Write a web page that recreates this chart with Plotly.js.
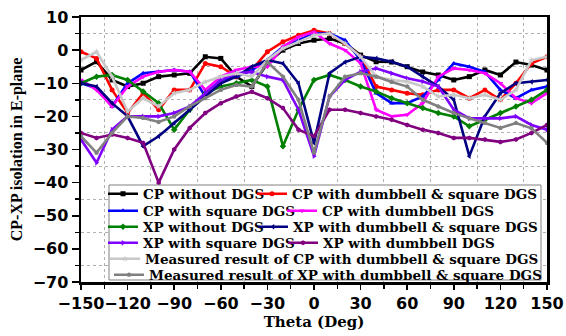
<!DOCTYPE html>
<html>
<head>
<meta charset="utf-8">
<script src="https://cdn.plot.ly/plotly-3.0.1.min.js"></script>
<style>html,body{margin:0;padding:0;background:#fff;}#chart{width:566px;height:336px;}</style>
</head>
<body>
<div id="chart"></div>
<script>
const theta = [-150,-140,-130,-120,-110,-100,-90,-80,-70,-60,-50,-40,-30,-20,-10,0,10,20,30,40,50,60,70,80,90,100,110,120,130,140,150];

const cpWithout      = [-6,-3.5,-9,-11,-10,-8,-7.5,-7,-2,-2.5,-8,-11,-4,0,2,3,3.5,2,-1.5,-3.5,-3.6,-5,-6.6,-7.5,-9,-8,-6,-7.5,-3.6,-4.5,-6];
const cpDumbSquare   = [-0.5,-2.5,-12,-19,-13,-18,-12,-12,-4,-5,-8,-6,-0.5,2.5,4.5,6,5,2,-2,-11,-12,-13,-13.5,-12,-12,-14.5,-12,-15,-10,-4,-2];
const cpSquare       = [-10,-11.5,-17,-10,-7,-6.5,-6,-6.5,-14,-9,-8,-6,-3,1,3,5,5,3,-3,-13,-16,-16,-14,-9,-4,-5,-6.6,-12,-14.5,-12,-11];
const cpDumb         = [-9,-12,-17,-11,-8,-6.5,-6,-6.5,-12,-8,-6,-5,-5,1,4,5.5,2,0,-4,-18,-20,-19.5,-16,-8,-5.5,-6,-7,-10,-14.5,-16,-13];
const xpWithout      = [-10,-8,-7.5,-9,-12.5,-16,-24,-18,-13,-11,-10,-9,-11,-29,-18,-9,-7.5,-9,-11,-12.5,-14.5,-16,-17.5,-19,-20,-23,-21,-19,-17,-15,-12];
const xpDumbSquare   = [-10,-11,-16,-20,-29,-26,-22,-18,-14,-10,-8,-5,-3,-4,-10,-28,-7,-3.6,-2,-2.5,-3.5,-5,-8,-11,-15,-32,-20,-13,-10,-9.6,-9];
const xpSquare       = [-27,-34,-24,-20,-20,-20,-19,-17,-13,-9,-7,-6.6,-8,-9,-18,-32,-14,-9,-6.5,-5.5,-7,-8.5,-9.5,-11,-18,-20.6,-20.6,-20.6,-20,-22.6,-24];
const xpDumb         = [-25,-26.5,-25.5,-26.5,-28,-40,-30,-23.5,-19,-16,-14,-12.6,-14.5,-17.5,-24,-26,-18,-18,-19,-20,-21,-22.6,-24,-25,-26.5,-26.5,-27,-27.7,-27,-25,-22.6];
const measCP         = [-3,-0.5,-8,-18.5,-14.5,-17,-13,-12,-9.6,-8,-7,-8,-3,0.5,2.5,4.5,5,2,-2,-8,-9,-9.5,-11,-14,-13.5,-14.5,-13.5,-15,-12,-3,-2];
const measXP         = [-26,-31,-25,-20,-20.5,-21.7,-20,-17,-14.5,-12,-10.5,-11,-3.6,-8,-15,-31,-14,-8,-7,-8,-9.6,-11,-15,-17,-19,-20.6,-22,-23.5,-22,-23.6,-28];

const names = [
  'CP without DGS','CP with dumbbell & square DGS',
  'CP with square DGS','CP with dumbbell DGS',
  'XP without DGS','XP with dumbbell & square DGS',
  'XP with square DGS','XP with dumbbell DGS',
  'Measured result of CP with dumbbell & square DGS',
  'Measured result of XP with dumbbell & square DGS'
];
const series = [cpWithout,cpDumbSquare,cpSquare,cpDumb,xpWithout,xpDumbSquare,xpSquare,xpDumb,measCP,measXP];
const colors = ['#000000','#ff0000','#0000ff','#ff00ff','#008000','#000080','#8000ff','#800080','#c8c8c8','#808080'];
const symbols = ['square','circle','triangle-up','triangle-down','diamond','triangle-left','triangle-right','hexagon','star','pentagon'];

const legKey = i => (i === 0 ? 'legend' : 'legend' + (i + 1));

const traces = series.map((s,i)=>({
  x: theta, y: s, name: names[i], type:'scatter', mode:'lines+markers',
  line:{color:colors[i], width:2.6},
  marker:{symbol:symbols[i], size:5, color:colors[i]},
  legend: legKey(i)
}));

// plot area: x 81..547, y 17..282 ; legend entries placed one per legend box
const rowPy = [194,194,211,211,227,227,243,243,259,275];
const colPx = [103,252,103,282,103,253,103,283,105,109];
const legFont = {family:'DejaVu Serif', size:13.5, weight:'bold', color:'#000'};

const tickFont = {family:'DejaVu Sans', size:16, weight:'bold', color:'#000'};
const layout = {
  width:566, height:336,
  margin:{l:81, r:19, t:17, b:54},
  paper_bgcolor:'#fff', plot_bgcolor:'#fff',
  showlegend:true,
  xaxis:{
    range:[-150,150], tickmode:'linear', tick0:-150, dtick:30, tickangle:0,
    ticks:'outside', ticklen:5, tickwidth:1.5, tickcolor:'#000',
    showline:true, linecolor:'#000', linewidth:2.5, mirror:true,
    showgrid:false, zeroline:false,
    minor:{tick0:-150, dtick:15, ticks:'outside', ticklen:4, tickcolor:'#000', showgrid:true, gridcolor:'#b0b0b0', griddash:'dot', gridwidth:1},
    tickfont:tickFont,
    title:{text:'Theta (Deg)', font:{family:'DejaVu Serif', size:15, weight:'bold', color:'#000'}, standoff:5},
    automargin:false
  },
  yaxis:{
    range:[-70,10], tickmode:'linear', tick0:-70, dtick:10,
    ticks:'outside', ticklen:7, tickwidth:1.5, tickcolor:'#000',
    showline:true, linecolor:'#000', linewidth:2.5, mirror:true,
    showgrid:false, zeroline:false,
    minor:{tick0:-70, dtick:5, ticks:'outside', ticklen:4, tickcolor:'#000', showgrid:true, gridcolor:'#b0b0b0', griddash:'dot', gridwidth:1},
    tickfont:tickFont,
    title:{text:'CP-XP isolation in E-plane', font:{family:'Liberation Serif', size:16, weight:'bold', color:'#000'}, standoff:6},
    automargin:false
  },
  shapes:[{type:'rect', xref:'paper', yref:'paper', x0:(109-81)/466, x1:(541-81)/466, y0:(282-280)/265, y1:(282-185)/265,
    line:{color:'#808080', width:1}, fillcolor:'#ffffff', layer:'above'}]
};
for (let i = 0; i < names.length; i++) {
  layout[legKey(i)] = {
    x:(colPx[i]-81)/466, y:(282-rowPy[i])/265, xanchor:'left', yanchor:'middle', orientation:'v',
    bgcolor:'rgba(0,0,0,0)', borderwidth:0, font:legFont, itemwidth:30
  };
}

Plotly.newPlot('chart', traces, layout, {displayModeBar:false, staticPlot:true});
</script>
</body>
</html>
